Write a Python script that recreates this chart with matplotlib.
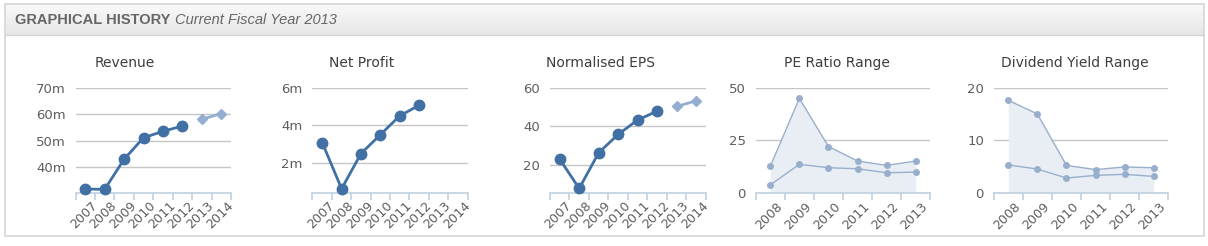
import numpy as np
import matplotlib
matplotlib.use('Agg')
import matplotlib.pyplot as plt
import matplotlib.transforms as mtransforms
from matplotlib.patches import Rectangle

# ─────────────────────────────────────────
# DATA
# ─────────────────────────────────────────
years_hist = ['2007', '2008', '2009', '2010', '2011', '2012', '2013', '2014']
years_range = ['2008', '2009', '2010', '2011', '2012', '2013']

revenue_actual = [31.9, 31.8, 43.1, 51.2, 53.6, 55.6]        # m, 2007-2012
revenue_forecast = [58.1, 60.3]                              # m, 2013-2014

profit_actual = [3.07, 0.6, 2.48, 3.49, 4.5, 5.06]           # m, 2007-2012
profit_forecast = []

eps_actual = [23.1, 8.0, 26.4, 35.9, 43.3, 47.9]             # 2007-2012
eps_forecast = [50.3, 53.2]                                  # 2013-2014

pe_high = [12.5, 44.9, 22.0, 15.1, 13.0, 15.1]
pe_low = [3.7, 13.5, 11.9, 11.4, 9.5, 9.8]

div_high = [17.6, 15.0, 5.2, 4.4, 4.9, 4.75]
div_low = [5.3, 4.5, 2.8, 3.3, 3.5, 3.1]

# ─────────────────────────────────────────
# STYLE
# ─────────────────────────────────────────
W, H = 1208, 246
DPI = 100
LINE = '#4170A5'
FORECAST = '#93AED0'
RANGE_LINE = '#98AFCB'
RANGE_FILL = '#E9EEF5'
GRID = '#C6C6C6'
AXIS = '#C0D0E0'
LABEL = '#5E5E5E'
TITLE = '#3E3E3E'

plt.rcParams['font.family'] = ['DejaVu Sans']

fig = plt.figure(figsize=(W / DPI, H / DPI), dpi=DPI)
fig.patch.set_facecolor('white')


def px_axes(x0, y0, x1, y1, **kw):
    # pixel box (top-left origin) -> figure axes
    return fig.add_axes([x0 / W, 1 - y1 / H, (x1 - x0) / W, (y1 - y0) / H], **kw)


# ─────────────────────────────────────────
# FRAME + HEADER
# ─────────────────────────────────────────
bg = px_axes(0, 0, W, H)
grad = np.linspace(0, 1, 64).reshape(-1, 1)
hdr_cmap = matplotlib.colors.LinearSegmentedColormap.from_list('hdr', ['#FAFAFA', '#E6E6E6'])
bg.imshow(grad, extent=(5, 1204, 35, 4), cmap=hdr_cmap, aspect='auto', zorder=0)
bg.add_patch(Rectangle((5, 4), 1199, 232, fill=False, edgecolor='#D6D6D6', lw=1.2, zorder=2))
bg.plot([5, 1204], [35, 35], color='#D6D6D6', lw=1, zorder=2)
bg.set_xlim(0, W)
bg.set_ylim(H, 0)
bg.axis('off')
bg.text(15, 20, 'GRAPHICAL HISTORY', fontsize=10.5, fontweight='bold',
        color='#666666', va='center', ha='left', family='Liberation Sans')
bg.text(175, 20, 'Current Fiscal Year 2013', fontsize=10.5, style='italic',
        color='#666666', va='center', ha='left', family='Liberation Sans')


# ─────────────────────────────────────────
# PANELS
# ─────────────────────────────────────────
def style_axis(ax, cats, yticks, ylabels, ylim):
    n = len(cats)
    ax.set_xlim(-0.5, n - 0.5)
    ax.set_ylim(*ylim)
    for s in ['top', 'right', 'left']:
        ax.spines[s].set_visible(False)
    ax.spines['bottom'].set_color(AXIS)
    ax.spines['bottom'].set_linewidth(1.2)
    ax.set_yticks(yticks)
    ax.set_yticklabels(ylabels)
    ax.tick_params(axis='y', length=0, pad=7, labelsize=9.5, labelcolor=LABEL)
    ax.yaxis.grid(True, color=GRID, lw=1)
    ax.set_axisbelow(True)
    ax.set_xticks(np.arange(n))
    ax.set_xticklabels(cats, rotation=45, ha='right', va='top',
                       rotation_mode='anchor', fontsize=9.2, color=LABEL)
    ax.tick_params(axis='x', which='major', length=0, pad=5)
    shift = mtransforms.ScaledTranslation(4 / 72, 0, fig.dpi_scale_trans)
    for lab in ax.get_xticklabels():
        lab.set_transform(lab.get_transform() + shift)
    ax.set_xticks(np.arange(n + 1) - 0.5, minor=True)
    ax.tick_params(axis='x', which='minor', length=5, color=AXIS, width=1.2)
    ax.patch.set_alpha(0)


def line_panel(x0, x1, title, tcx, actual, forecast, yticks, ylabels, ylim):
    ax = px_axes(x0, 87.7, x1, 192.5)
    style_axis(ax, years_hist, yticks, ylabels, ylim)
    xa = np.arange(len(actual))
    ax.plot(xa, actual, color=LINE, lw=2, marker='o', ms=7.5, zorder=3, clip_on=False)
    if forecast:
        xf = np.arange(len(actual), len(actual) + len(forecast))
        ax.plot(xf, forecast, color=FORECAST, lw=2, marker='D', ms=5, zorder=3, clip_on=False)
    bg.text(tcx, 63, title, fontsize=10, color=TITLE, ha='center', va='center')
    return ax


def range_panel(x0, x1, title, tcx, high, low, yticks, ylim):
    ax = px_axes(x0, 87.7, x1, 192.7)
    style_axis(ax, years_range, yticks, [str(v) for v in yticks], ylim)
    x = np.arange(len(high))
    ax.fill_between(x, 0, high, color=RANGE_FILL, lw=0, zorder=1)
    ax.plot(x, high, color=RANGE_LINE, lw=1, marker='o', ms=4, zorder=3)
    ax.plot(x, low, color=RANGE_LINE, lw=1, marker='o', ms=4, zorder=3)
    bg.text(tcx, 63, title, fontsize=10, color=TITLE, ha='center', va='center')
    return ax


line_panel(75.5, 231, 'Revenue', 125, revenue_actual, revenue_forecast,
           [40, 50, 60, 70], ['40m', '50m', '60m', '70m'], (30.6, 70))
line_panel(312.5, 467.7, 'Net Profit', 362, profit_actual, profit_forecast,
           [2, 4, 6], ['2m', '4m', '6m'], (0.4, 6))
line_panel(550, 705.7, 'Normalised EPS', 600, eps_actual, eps_forecast,
           [20, 40, 60], ['20', '40', '60'], (5.9, 60))
range_panel(755.7, 930.3, 'PE Ratio Range', 837, pe_high, pe_low, [0, 25, 50], (0, 50))
range_panel(993.7, 1168.3, 'Dividend Yield Range', 1074.5, div_high, div_low, [0, 10, 20], (0, 20))

fig.savefig('out.png', dpi=DPI)
